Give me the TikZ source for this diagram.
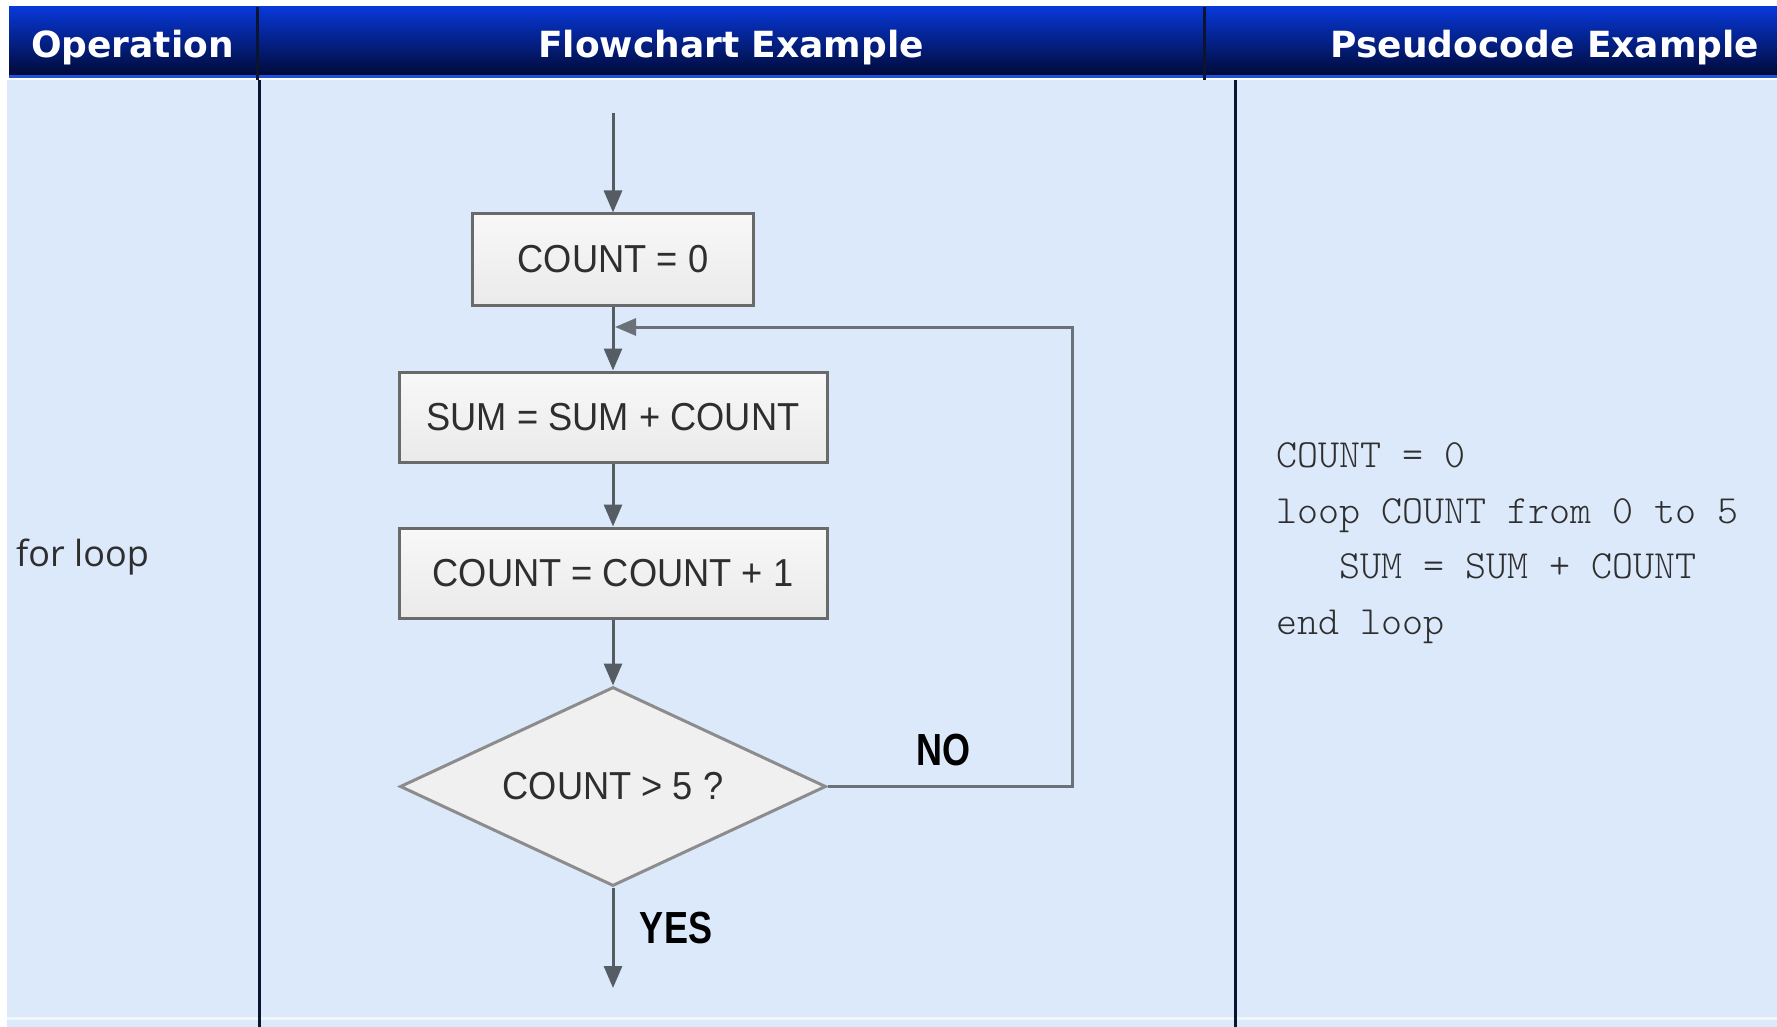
\documentclass[tikz,border=0pt]{standalone}
\usepackage{fontspec}
\usetikzlibrary{arrows.meta,shapes.geometric}

\newfontfamily\hdrfont{DejaVu Sans Bold}
\newfontfamily\boxfont[FakeStretch=0.93]{Liberation Sans}
\newfontfamily\tagfont[FakeStretch=0.80]{Liberation Sans Bold}
\newfontfamily\codefont[Extension=.otf]{lmmonolt10-regular}
\newfontfamily\opfont{Open Sans}

\definecolor{bodybg}{HTML}{DCE9FB}
\definecolor{hdrtop}{HTML}{0838D8}
\definecolor{hdrmid}{HTML}{021F8C}
\definecolor{hdrbot}{HTML}{000A38}
\definecolor{hdrline}{HTML}{1F52D8}
\definecolor{rulecol}{HTML}{0B1430}
\definecolor{flowline}{HTML}{555C64}
\definecolor{loopline}{HTML}{6A7179}
\definecolor{boxtop}{HTML}{F8F8F8}
\definecolor{boxbot}{HTML}{EAEAEA}
\definecolor{boxdraw}{HTML}{6A6A6A}
\definecolor{diadraw}{HTML}{8C8C8C}
\definecolor{diafill}{HTML}{F0F0F0}
\definecolor{txt}{HTML}{2E2E2E}

\tikzset{
  hdr/.style={anchor=base, text=white, inner sep=0pt,
    font=\hdrfont\fontsize{36}{40}\selectfont},
  colrule/.style={draw=rulecol, line width=3pt},
  procbox/.style={rectangle, draw=boxdraw, top color=boxtop, bottom color=boxbot,
    line width=3pt, inner sep=0pt, text=txt,
    font=\boxfont\fontsize{39}{42}\selectfont},
  decbox/.style={diamond, draw=diadraw, fill=diafill, line width=3pt,
    inner sep=0pt, text=txt, font=\boxfont\fontsize{39}{42}\selectfont},
  flow/.style={draw=flowline, line width=3pt,
    -{Triangle[length=22pt,width=18pt]}},
  loopback/.style={draw=loopline, line width=3pt,
    -{Triangle[length=21pt,width=17pt]}},
  tag/.style={inner sep=0pt, text=black, font=\tagfont\fontsize{45}{48}\selectfont},
  code/.style={anchor=base west, inner sep=0pt, text=txt,
    font=\codefont\fontsize{40}{44}\selectfont},
}

\begin{document}
\begin{tikzpicture}[x=1pt,y=-1pt]
\useasboundingbox (0,0) rectangle (1777,1027);
\fill[white] (0,0) rectangle (1777,1027);

% table body and header band
\fill[bodybg] (7,80) rectangle (1777,1027);
\shade[top color=hdrtop, middle color=hdrmid, bottom color=hdrbot] (9,7) rectangle (1777,75);
\fill[hdrline] (9,75) rectangle (1777,78);
\fill[white!60!bodybg] (7,1017) rectangle (1777,1020);

% column rules
\draw[colrule] (257,7) -- (257,80);
\draw[colrule] (1204,7) -- (1204,80);
\draw[colrule] (259,80) -- (259,1027);
\draw[colrule] (1235,80) -- (1235,1027);

% header titles
\node[hdr] (hop)   at (132.5,58) {Operation};
\node[hdr] (hflow) at (731,58)   {Flowchart Example};
\node[hdr] (hcode) at (1545,58)  {Pseudocode Example};

% operation name
\node[anchor=base west, inner sep=0pt, text=txt,
      font=\opfont\fontsize{36}{40}\selectfont] (op) at (16,566) {for loop};

% flowchart
\coordinate (entry) at (613,113);
\node[procbox, minimum width=281pt, minimum height=91pt] (init) at (613,259.5) {COUNT = 0};
\coordinate (join) at (613,327);
\node[procbox, minimum width=428pt, minimum height=90pt] (acc) at (613,417) {SUM = SUM + COUNT};
\node[procbox, minimum width=428pt, minimum height=90pt] (inc) at (613,573) {COUNT = COUNT + 1};
\node[decbox, minimum width=426pt, minimum height=199pt, aspect=2.14] (test) at (613,786.5) {COUNT > 5 ?};
\coordinate (exit) at (613,988);
\coordinate (loopcorner) at (1072,786.5);

\draw[flow] (entry) -- (init.north);
\draw[flow] (init.south) -- (acc.north);
\draw[flow] (acc.south) -- (inc.north);
\draw[flow] (inc.south) -- (test.north);
\draw[flow] (test.south) -- (exit);
\draw[loopback] (test.east) -- (loopcorner) |- ([xshift=2pt]join);

\node[tag] (no)  at (943,750) {NO};
\node[tag] (yes) at (676,928) {YES};

% pseudocode
\node[code] (c1) at (1276,467) {COUNT = 0};
\node[code] (c2) at (1276,523) {loop COUNT from 0 to 5};
\node[code] (c3) at (1276,578) {\ \ \ SUM = SUM + COUNT};
\node[code] (c4) at (1276,634) {end loop};
\end{tikzpicture}
\end{document}
